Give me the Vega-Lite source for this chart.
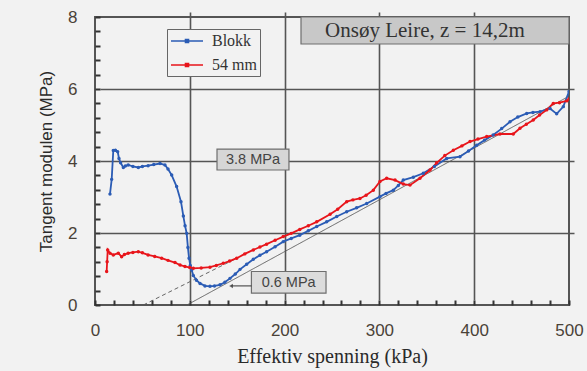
{
  "$schema": "https://vega.github.io/schema/vega-lite/v6.json",
  "width": 474,
  "height": 288,
  "autosize": {"type": "none"},
  "padding": {"left": 95, "top": 17, "right": 18, "bottom": 66},
  "background": "#f2f2f2",
  "config": {
    "view": {"stroke": "#555555", "strokeWidth": 2, "fill": "#f2f2f2"},
    "axis": {
      "labelFont": "Liberation Sans",
      "labelFontSize": 17,
      "labelColor": "#4a4238",
      "labelOverlap": false,
      "labelFlush": false,
      "format": "d",
      "titleFontWeight": "normal",
      "titleColor": "#2a2a2a",
      "domain": false,
      "ticks": true,
      "tickColor": "#333333",
      "tickOpacity": 1,
      "tickSize": 5,
      "offset": -5,
      "tickWidth": 2,
      "gridColor": "#555555",
      "gridWidth": 1.6
    }
  },
  "datasets": {
    "curves": [
      {"s": "Blokk", "x": 15.8, "y": 3.08}, {"s": "Blokk", "x": 17.6, "y": 3.49}, {"s": "Blokk", "x": 19.3, "y": 4.29},
      {"s": "Blokk", "x": 21.5, "y": 4.3}, {"s": "Blokk", "x": 23.9, "y": 4.26}, {"s": "Blokk", "x": 25.3, "y": 4.07},
      {"s": "Blokk", "x": 27, "y": 3.95}, {"s": "Blokk", "x": 29.9, "y": 3.82}, {"s": "Blokk", "x": 32, "y": 3.86},
      {"s": "Blokk", "x": 35, "y": 3.89}, {"s": "Blokk", "x": 40, "y": 3.85}, {"s": "Blokk", "x": 45.7, "y": 3.82},
      {"s": "Blokk", "x": 50, "y": 3.85}, {"s": "Blokk", "x": 56, "y": 3.87}, {"s": "Blokk", "x": 62, "y": 3.9},
      {"s": "Blokk", "x": 68.6, "y": 3.93}, {"s": "Blokk", "x": 73.8, "y": 3.89}, {"s": "Blokk", "x": 77, "y": 3.78},
      {"s": "Blokk", "x": 80.9, "y": 3.61}, {"s": "Blokk", "x": 86.1, "y": 3.29}, {"s": "Blokk", "x": 90.7, "y": 2.87},
      {"s": "Blokk", "x": 93.2, "y": 2.47}, {"s": "Blokk", "x": 95, "y": 2.2}, {"s": "Blokk", "x": 96.7, "y": 1.99},
      {"s": "Blokk", "x": 98, "y": 1.6}, {"s": "Blokk", "x": 99.2, "y": 1.3}, {"s": "Blokk", "x": 100.5, "y": 1.1},
      {"s": "Blokk", "x": 102, "y": 0.97}, {"s": "Blokk", "x": 103.7, "y": 0.82}, {"s": "Blokk", "x": 107, "y": 0.69},
      {"s": "Blokk", "x": 110.8, "y": 0.6}, {"s": "Blokk", "x": 116, "y": 0.53}, {"s": "Blokk", "x": 121.3, "y": 0.52},
      {"s": "Blokk", "x": 126, "y": 0.53}, {"s": "Blokk", "x": 131.9, "y": 0.56}, {"s": "Blokk", "x": 137, "y": 0.63},
      {"s": "Blokk", "x": 142.4, "y": 0.74}, {"s": "Blokk", "x": 148, "y": 0.86}, {"s": "Blokk", "x": 153, "y": 0.99},
      {"s": "Blokk", "x": 160, "y": 1.13}, {"s": "Blokk", "x": 167, "y": 1.27}, {"s": "Blokk", "x": 174, "y": 1.38},
      {"s": "Blokk", "x": 181, "y": 1.48}, {"s": "Blokk", "x": 190, "y": 1.62}, {"s": "Blokk", "x": 198.6, "y": 1.76},
      {"s": "Blokk", "x": 207, "y": 1.85}, {"s": "Blokk", "x": 216, "y": 1.94}, {"s": "Blokk", "x": 225, "y": 2.06},
      {"s": "Blokk", "x": 233.9, "y": 2.18}, {"s": "Blokk", "x": 244.4, "y": 2.31}, {"s": "Blokk", "x": 255, "y": 2.46},
      {"s": "Blokk", "x": 265.5, "y": 2.59}, {"s": "Blokk", "x": 276, "y": 2.7}, {"s": "Blokk", "x": 286.6, "y": 2.82},
      {"s": "Blokk", "x": 300.6, "y": 3.01}, {"s": "Blokk", "x": 307, "y": 3.1}, {"s": "Blokk", "x": 314.7, "y": 3.19},
      {"s": "Blokk", "x": 320, "y": 3.32}, {"s": "Blokk", "x": 325.2, "y": 3.47}, {"s": "Blokk", "x": 335.8, "y": 3.55},
      {"s": "Blokk", "x": 346.3, "y": 3.66}, {"s": "Blokk", "x": 358, "y": 3.85}, {"s": "Blokk", "x": 371, "y": 4.07},
      {"s": "Blokk", "x": 385, "y": 4.12}, {"s": "Blokk", "x": 394, "y": 4.28}, {"s": "Blokk", "x": 402.6, "y": 4.44},
      {"s": "Blokk", "x": 411, "y": 4.58}, {"s": "Blokk", "x": 420, "y": 4.72}, {"s": "Blokk", "x": 429, "y": 4.9},
      {"s": "Blokk", "x": 437.8, "y": 5.09}, {"s": "Blokk", "x": 446, "y": 5.22}, {"s": "Blokk", "x": 455.4, "y": 5.32},
      {"s": "Blokk", "x": 462, "y": 5.35}, {"s": "Blokk", "x": 469.4, "y": 5.37}, {"s": "Blokk", "x": 480, "y": 5.46},
      {"s": "Blokk", "x": 487, "y": 5.31}, {"s": "Blokk", "x": 494, "y": 5.51}, {"s": "Blokk", "x": 500, "y": 5.93},
      {"s": "54 mm", "x": 12.3, "y": 0.93}, {"s": "54 mm", "x": 12.8, "y": 1.2}, {"s": "54 mm", "x": 13.4, "y": 1.53},
      {"s": "54 mm", "x": 15.8, "y": 1.44}, {"s": "54 mm", "x": 19.3, "y": 1.39}, {"s": "54 mm", "x": 24.6, "y": 1.44},
      {"s": "54 mm", "x": 28.1, "y": 1.34}, {"s": "54 mm", "x": 31, "y": 1.4}, {"s": "54 mm", "x": 35, "y": 1.44},
      {"s": "54 mm", "x": 40, "y": 1.46}, {"s": "54 mm", "x": 45.7, "y": 1.48}, {"s": "54 mm", "x": 50, "y": 1.45},
      {"s": "54 mm", "x": 56, "y": 1.39}, {"s": "54 mm", "x": 63, "y": 1.35}, {"s": "54 mm", "x": 70.3, "y": 1.3},
      {"s": "54 mm", "x": 77, "y": 1.24}, {"s": "54 mm", "x": 84.4, "y": 1.18}, {"s": "54 mm", "x": 89.7, "y": 1.11},
      {"s": "54 mm", "x": 94.9, "y": 1.07}, {"s": "54 mm", "x": 100, "y": 1.04}, {"s": "54 mm", "x": 103.7, "y": 1.02},
      {"s": "54 mm", "x": 112, "y": 1.03}, {"s": "54 mm", "x": 121.3, "y": 1.05}, {"s": "54 mm", "x": 128, "y": 1.1},
      {"s": "54 mm", "x": 135.3, "y": 1.16}, {"s": "54 mm", "x": 142, "y": 1.22}, {"s": "54 mm", "x": 149.5, "y": 1.3},
      {"s": "54 mm", "x": 158, "y": 1.42}, {"s": "54 mm", "x": 167, "y": 1.53}, {"s": "54 mm", "x": 174, "y": 1.61},
      {"s": "54 mm", "x": 181, "y": 1.69}, {"s": "54 mm", "x": 190, "y": 1.8}, {"s": "54 mm", "x": 198.6, "y": 1.9},
      {"s": "54 mm", "x": 207, "y": 1.99}, {"s": "54 mm", "x": 216, "y": 2.1}, {"s": "54 mm", "x": 225, "y": 2.2},
      {"s": "54 mm", "x": 233.9, "y": 2.31}, {"s": "54 mm", "x": 248, "y": 2.52}, {"s": "54 mm", "x": 256, "y": 2.66},
      {"s": "54 mm", "x": 265.5, "y": 2.87}, {"s": "54 mm", "x": 272, "y": 2.92}, {"s": "54 mm", "x": 279.5, "y": 2.96},
      {"s": "54 mm", "x": 286, "y": 3.05}, {"s": "54 mm", "x": 293.6, "y": 3.19}, {"s": "54 mm", "x": 300.6, "y": 3.43},
      {"s": "54 mm", "x": 307.7, "y": 3.52}, {"s": "54 mm", "x": 316.5, "y": 3.47}, {"s": "54 mm", "x": 325.2, "y": 3.36},
      {"s": "54 mm", "x": 332.3, "y": 3.33}, {"s": "54 mm", "x": 342.8, "y": 3.52}, {"s": "54 mm", "x": 353.4, "y": 3.75},
      {"s": "54 mm", "x": 360.4, "y": 3.95}, {"s": "54 mm", "x": 369, "y": 4.15}, {"s": "54 mm", "x": 378, "y": 4.3},
      {"s": "54 mm", "x": 387, "y": 4.42}, {"s": "54 mm", "x": 395.6, "y": 4.54}, {"s": "54 mm", "x": 404, "y": 4.61},
      {"s": "54 mm", "x": 413.2, "y": 4.68}, {"s": "54 mm", "x": 427.2, "y": 4.75}, {"s": "54 mm", "x": 441.2, "y": 4.75},
      {"s": "54 mm", "x": 448.3, "y": 4.91}, {"s": "54 mm", "x": 455, "y": 5.02}, {"s": "54 mm", "x": 462.3, "y": 5.14},
      {"s": "54 mm", "x": 469, "y": 5.28}, {"s": "54 mm", "x": 476.5, "y": 5.42}, {"s": "54 mm", "x": 483.4, "y": 5.6},
      {"s": "54 mm", "x": 490, "y": 5.62}, {"s": "54 mm", "x": 497.6, "y": 5.67}, {"s": "54 mm", "x": 500, "y": 5.72}
    ],
    "tangents": [
      {"kind": "solid", "x": 97, "y": 0, "x2": 500, "y2": 5.8},
      {"kind": "dashed", "x": 51, "y": 0, "x2": 148, "y2": 1.28}
    ],
    "boxes": [
      {"id": "title", "x": 217.3, "x2": 500, "y": 8, "y2": 7.25},
      {"id": "a38", "x": 128.7, "x2": 204.6, "y": 4.33, "y2": 3.75},
      {"id": "a06", "x": 165, "x2": 243.7, "y": 0.93, "y2": 0.33}
    ],
    "titlelabel": [{"x": 348, "y": 7.62, "text": "Onsøy Leire, z = 14,2m"}],
    "labels": [
      {"x": 166.7, "y": 4.03, "text": "3.8 MPa"},
      {"x": 204.3, "y": 0.62, "text": "0.6 MPa"}
    ],
    "arrow": [{"x": 143.5, "x2": 165, "y": 0.53}]
  },
  "encoding": {
    "x": {
      "field": "x", "type": "quantitative",
      "scale": {"domain": [0, 500], "nice": false},
      "axis": {
        "title": "Effektiv spenning (kPa)",
        "titleFont": "Liberation Serif",
        "titleFontSize": 20,
        "values": [0, 20, 40, 60, 80, 100, 120, 140, 160, 180, 200, 220, 240, 260, 280, 300, 320, 340, 360, 380, 400, 420, 440, 460, 480, 500],
        "labelExpr": "datum.value % 100 === 0 ? datum.label : ''",
        "labelPadding": 17,
        "titlePadding": 8,
        "ticks": true,
        "gridOpacity": {"condition": {"test": "datum.value % 100 === 0 && datum.value > 0 && datum.value < 500", "value": 1}, "value": 0}
      }
    },
    "y": {
      "field": "y", "type": "quantitative",
      "scale": {"domain": [0, 8], "nice": false},
      "axis": {
        "title": "Tangent modulen (MPa)",
        "titleFont": "Liberation Sans",
        "titleFontSize": 17,
        "values": [0, 0.4, 0.8, 1.2, 1.6, 2, 2.4, 2.8, 3.2, 3.6, 4, 4.4, 4.8, 5.2, 5.6, 6, 6.4, 6.8, 7.2, 7.6, 8],
        "labelExpr": "datum.value % 2 === 0 ? datum.label : ''",
        "labelPadding": 18,
        "titlePadding": 12,
        "ticks": true,
        "gridOpacity": {"condition": {"test": "datum.value % 2 === 0 && datum.value > 0 && datum.value < 8", "value": 1}, "value": 0}
      }
    }
  },
  "layer": [
    {
      "data": {"name": "tangents"},
      "mark": {"type": "rule", "color": "#555555", "strokeWidth": 0.9},
      "encoding": {
        "x2": {"field": "x2"},
        "y2": {"field": "y2"},
        "strokeDash": {"field": "kind", "type": "nominal", "scale": {"domain": ["solid", "dashed"], "range": [[1, 0], [4, 3]]}, "legend": null}
      }
    },
    {
      "data": {"name": "curves"},
      "mark": {"type": "line", "strokeWidth": 1.8, "point": {"filled": true, "size": 12}, "clip": true},
      "encoding": {
        "color": {
          "field": "s", "type": "nominal",
          "scale": {"domain": ["Blokk", "54 mm"], "range": ["#2b5cb5", "#e8151b"]},
          "legend": {
            "title": null,
            "orient": "none",
            "legendX": 72,
            "legendY": 12,
            "fillColor": "#f2f2f2",
            "strokeColor": "#666666",
            "padding": 3,
            "labelFont": "Liberation Serif",
            "labelFontSize": 16,
            "labelColor": "#333333",
            "symbolType": "M-1,0L3,0M0.8,-0.2L1.2,-0.2L1.2,0.2L0.8,0.2Z",
            "symbolSize": 256,
            "symbolStrokeWidth": 1.4,
            "rowPadding": 7,
            "labelOffset": 24
          }
        }
      }
    },
    {
      "data": {"name": "boxes"},
      "mark": {"type": "rect", "stroke": "#6e6e6e", "strokeWidth": 1.2},
      "encoding": {
        "x2": {"field": "x2"},
        "y2": {"field": "y2"},
        "fill": {"field": "id", "type": "nominal", "scale": {"domain": ["title", "a38", "a06"], "range": ["#c8c8c8", "#d6d6d6", "#dcdcdc"]}, "legend": null}
      }
    },
    {
      "data": {"name": "titlelabel"},
      "mark": {"type": "text", "baseline": "middle", "align": "center", "font": "Liberation Serif", "fontSize": 21, "color": "#333333"},
      "encoding": {"text": {"field": "text"}}
    },
    {
      "data": {"name": "labels"},
      "mark": {"type": "text", "baseline": "middle", "align": "center", "font": "Liberation Sans", "fontSize": 14.5, "color": "#444444"},
      "encoding": {"text": {"field": "text"}}
    },
    {
      "data": {"name": "arrow"},
      "mark": {"type": "rule", "color": "#333333", "strokeWidth": 1},
      "encoding": {"x2": {"field": "x2"}}
    },
    {
      "data": {"name": "arrow"},
      "mark": {"type": "point", "shape": "triangle-left", "filled": true, "color": "#333333", "size": 20},
      "encoding": {}
    }
  ],
  "resolve": {"scale": {"color": "independent"}}
}
